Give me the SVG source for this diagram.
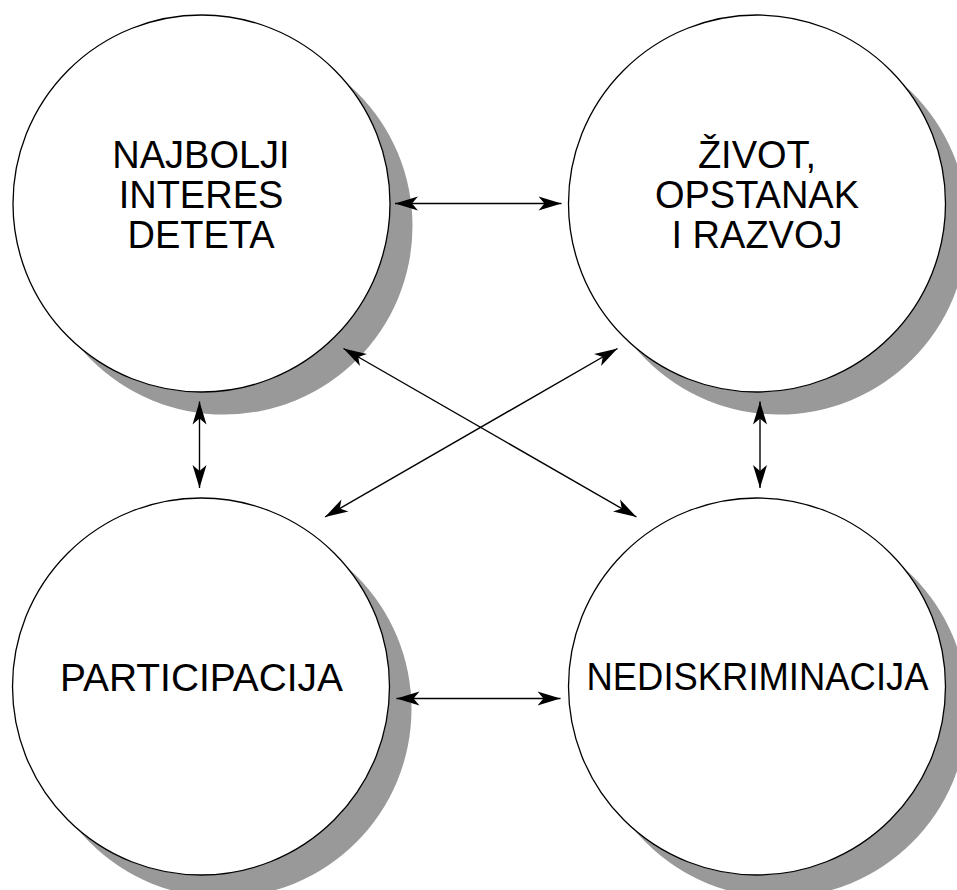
<svg xmlns="http://www.w3.org/2000/svg" width="957" height="890" viewBox="0 0 957 890">
  <style>
    .shadow { fill: #999999; stroke: none; }
    .disc { fill: #ffffff; stroke: #000000; stroke-width: 1.3; }
    .label { font-family: "Liberation Sans", Arial, Helvetica, sans-serif; font-size: 38px; fill: #000000; text-anchor: middle; }
    .link { stroke: #000000; stroke-width: 1.4; fill: none; marker-start: url(#head); marker-end: url(#head); }
  </style>
  <defs>
    <marker id="head" markerUnits="userSpaceOnUse" viewBox="-24 -8 25 16" refX="0" refY="0" markerWidth="25" markerHeight="16" orient="auto-start-reverse">
      <path d="M0,0 L-23,-7 L-17,0 L-23,7 Z" fill="#000000"/>
    </marker>
  </defs>

  <rect width="957" height="890" fill="#ffffff"/>

  <!-- shadows sit under every disc -->
  <g id="shadows">
    <circle class="shadow" cx="224" cy="226" r="188.5"/>
    <circle class="shadow" cx="779" cy="226" r="188.5"/>
    <circle class="shadow" cx="223" cy="709" r="188.5"/>
    <circle class="shadow" cx="779" cy="709" r="188.5"/>
  </g>

  <g id="connectors">
    <line class="link" x1="395" y1="203.5" x2="561.5" y2="203.5"/>
    <line class="link" x1="396.5" y1="698.5" x2="560.5" y2="698.5"/>
    <line class="link" x1="199.5" y1="401.5" x2="199.5" y2="488"/>
    <line class="link" x1="760" y1="401.5" x2="760" y2="488"/>
    <line class="link" x1="343.5" y1="348.5" x2="636.5" y2="517"/>
    <line class="link" x1="617.5" y1="348.5" x2="325" y2="517"/>
  </g>

  <g id="najbolji-interes">
    <circle class="disc" cx="201.5" cy="203.5" r="188.5"/>
    <text class="label" x="201" y="168">NAJBOLJI</text>
    <text class="label" x="201" y="208">INTERES</text>
    <text class="label" x="201" y="248">DETETA</text>
  </g>

  <g id="zivot-opstanak">
    <circle class="disc" cx="757" cy="203.5" r="188.5"/>
    <text class="label" x="757" y="168">ŽIVOT,</text>
    <text class="label" x="757" y="208">OPSTANAK</text>
    <text class="label" x="757" y="248">I RAZVOJ</text>
  </g>

  <g id="participacija">
    <circle class="disc" cx="201" cy="686.5" r="188.5"/>
    <text class="label" x="201.5" y="690.5" textLength="283" lengthAdjust="spacingAndGlyphs">PARTICIPACIJA</text>
  </g>

  <g id="nediskriminacija">
    <circle class="disc" cx="757" cy="686.5" r="188.5"/>
    <text class="label" x="757.5" y="690" textLength="342" lengthAdjust="spacingAndGlyphs">NEDISKRIMINACIJA</text>
  </g>
</svg>
